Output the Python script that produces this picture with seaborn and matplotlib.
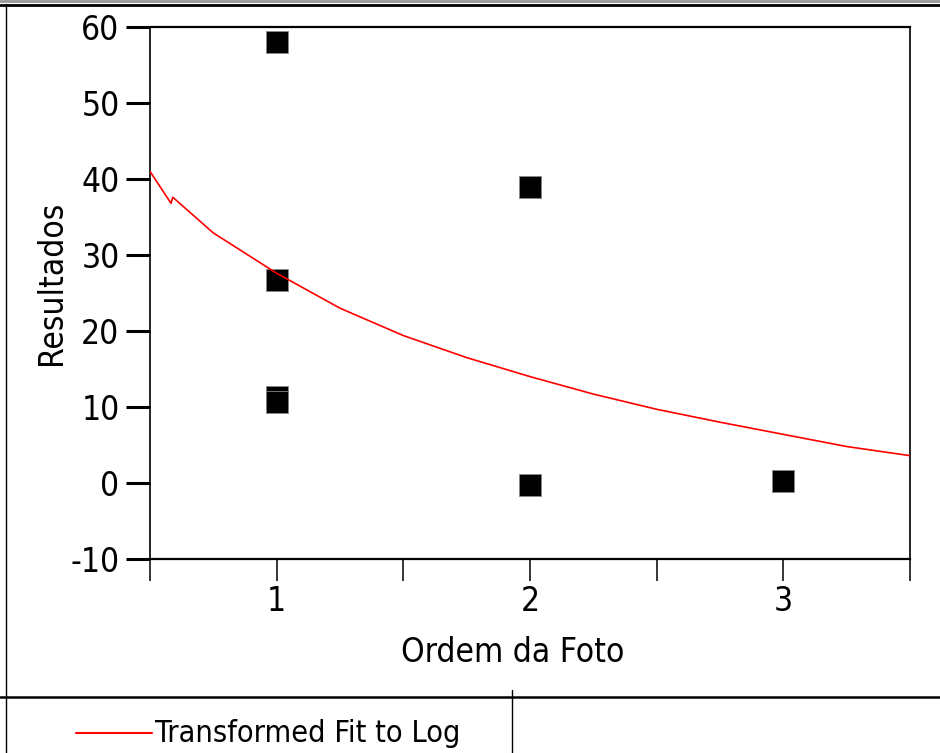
"""JMP-style bivariate plot: Resultados by Ordem da Foto with a log fit line."""

import matplotlib
matplotlib.use("Agg")
import matplotlib.pyplot as plt
from matplotlib import font_manager
from matplotlib.lines import Line2D
import pandas as pd
import seaborn as sns

# observed points
ordem = [1, 1, 1, 1, 2, 2, 3]
resultados = [58.0, 26.7, 11.3, 10.7, 38.9, -0.3, 0.3]

# fitted curve
fit_x = [0.5, 0.583, 0.59, 0.75, 1.0, 1.25, 1.5, 1.75, 2.0, 2.25, 2.5, 2.75, 3.0, 3.25, 3.5]
fit_y = [41.0, 36.8, 37.6, 32.9, 27.6, 23.0, 19.4, 16.5, 14.0, 11.7, 9.7, 8.0, 6.4, 4.8, 3.6]

x_ticks = [0.5, 1, 1.5, 2, 2.5, 3, 3.5]
x_labels = ["", "1", "", "2", "", "3", ""]
y_ticks = [-10, 0, 10, 20, 30, 40, 50, 60]

sns.set_theme(style="white")

# narrow font if one is installed, else plain Liberation Sans a bit smaller
names = {(f.name, f.stretch) for f in font_manager.fontManager.ttflist}
fam, stretch, fs = ["Liberation Sans", "DejaVu Sans"], "normal", 21
if any(n == "Liberation Sans Narrow" for n, _ in names):
    fam, fs = ["Liberation Sans Narrow", "DejaVu Sans"], 25
elif any(n == "DejaVu Sans" and s in ("condensed", "semi-condensed") for n, s in names):
    fam, stretch, fs = ["DejaVu Sans"], "condensed", 24

plt.rcParams.update({
    "font.family": fam,
    "font.stretch": stretch,
    "axes.unicode_minus": False,
    "text.color": "black",
    "axes.labelcolor": "black",
    "xtick.color": "black",
    "ytick.color": "black",
})

fig = plt.figure(figsize=(9.4, 7.53), dpi=100)
ax = fig.add_axes([150 / 940, 1 - 559 / 753, 760 / 940, 532 / 753])

pts = pd.DataFrame({"Ordem da Foto": ordem, "Resultados": resultados})
fit = pd.DataFrame({"x": fit_x, "y": fit_y})

sns.lineplot(data=fit, x="x", y="y", ax=ax, color="#ff0000", lw=1.2,
             sort=False, estimator=None, zorder=3)
sns.scatterplot(data=pts, x="Ordem da Foto", y="Resultados", ax=ax,
                marker="s", s=230, color="black", edgecolor="#888888",
                linewidth=0.6, zorder=2)

ax.set_xlim(0.5, 3.5)
ax.set_ylim(-10, 60)
ax.set_xticks(x_ticks)
ax.set_xticklabels(x_labels)
ax.set_yticks(y_ticks)

ax.tick_params(axis="y", direction="out", length=17, width=2.2,
               labelsize=fs, pad=5, left=True)
ax.tick_params(axis="x", direction="out", length=16, width=1.1,
               labelsize=fs, pad=3, bottom=True)

for sp in ax.spines.values():
    sp.set_visible(True)
    sp.set_color("black")
    sp.set_linewidth(1.2)
ax.spines["top"].set_linewidth(1.6)
ax.spines["bottom"].set_linewidth(1.6)

ax.set_xlabel("Ordem da Foto", fontsize=fs)
ax.set_ylabel("Resultados", fontsize=fs)
ax.xaxis.set_label_coords(363 / 760, -(636 - 559) / 532)
ax.yaxis.set_label_coords(-(150 - 68) / 760, (559 - 283) / 532)

# report frame lines
W, H = 940, 753


def fline(x0, y0, x1, y1, color="black", lw=1.2):
    fig.add_artist(Line2D([x0 / W, x1 / W], [1 - y0 / H, 1 - y1 / H],
                          color=color, lw=lw, transform=fig.transFigure))


fline(0, 1, W, 1, color="#999999", lw=2)
fline(0, 4.5, W, 4.5, lw=2)
fline(6, 4, 6, H, lw=1.0)
fline(0, 697, W, 697, lw=1.8)
fline(512, 690, 512, H, lw=1.0)

# legend
fline(76, 733, 152, 733, color="#ff0000", lw=1.5)
fig.text(155 / W, 1 - 733 / H, "Transformed Fit to Log", fontsize=fs - 2,
         ha="left", va="center")

fig.savefig("out.png", dpi=100)
plt.close(fig)
